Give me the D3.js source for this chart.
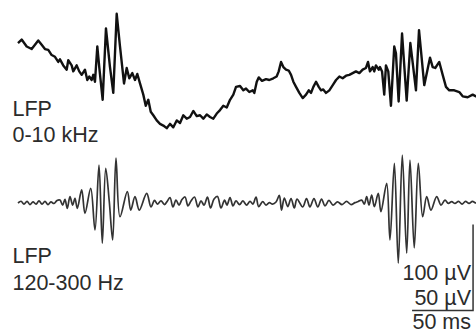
<!DOCTYPE html>
<html>
<head>
<meta charset="utf-8">
<script src="https://cdn.jsdelivr.net/npm/d3@7"></script>
<style>
  html, body { margin: 0; padding: 0; background: #fff; }
  svg { display: block; }
  text { font-family: "Liberation Sans", Arial, Helvetica, sans-serif; fill: #2b2b2b; }
</style>
</head>
<body>
<script>
// Wide-band LFP (0-10 kHz): time in ms, amplitude in µV
const rawTime = [0,3,7.1,11.2,13.9,16.6,19.4,22.1,24.8,27.6,
  30.3,33,34.4,37.1,39.9,41.2,44,45.3,48.1,50.2,
  52.2,54.9,56.8,58.4,60.4,61.7,63.1,65,66.6,69.4,
  72.1,75.4,78.1,80.9,83.6,86.9,89.1,91.2,93.7,95.9,
  97.8,100,102.7,104.7,106.8,108.8,110.9,113.7,116.4,119.1,
  121.9,124.6,127.3,130.1,132.8,135.5,138.3,141,143.7,146.5,
  149.2,151.9,154.7,157.4,160.1,162.9,165.6,168.3,171.1,173.8,
  176.5,178.7,182,184.7,186.9,189.6,192.4,193.7,195.7,197.3,
  200,203.3,206,209.3,212,213.7,215.6,217.5,219.7,221.9,
  223.8,225.7,227.9,230.6,233.4,236.1,238.3,240.2,242.1,244.3,
  246.5,248.4,250.2,252.5,255.2,258,260.7,263.4,266.1,268.9,
  271.6,274.3,277,279.8,282.5,285.2,286.9,288.5,290.7,292,
  293.4,295.7,296.7,298.4,300.2,301.6,303.5,305.7,308.4,309.8,
  312,314.8,318.6,321.6,326.2,328.7,333,337.7,339.9,342,
  345.3,348.1,350.8,353.5,357.6,361.7,364.5,368.6,372.7,375.4,
  378];
const rawValue = [43,47,39,36,41,46,41,36,35,29,
  27,21,24,17,12,23,17,10,17,10,
  6,12,0,4,0,6,-2,39,15,-23,
  60,15,-15,77,39,-4,14,2,8,0,
  7,-4,-17,-30,-23,-37,-41,-47,-51,-53,
  -56,-51,-55,-47,-50,-41,-45,-43,-36,-42,
  -41,-45,-40,-43,-45,-39,-35,-30,-32,-23,
  -17,-8,-7,-12,-10,-14,-12,-15,-2,3,
  -1,1,0,2,4,10,21,15,12,11,
  6,-2,-8,-15,-21,-17,-12,-15,-8,-2,
  -8,-12,-11,-15,-12,-6,0,4,2,5,
  6,8,10,8,12,14,21,10,15,10,
  17,12,15,10,-17,17,10,-30,39,31,
  -25,54,-24,43,-12,58,-6,26,15,14,
  21,6,-8,-12,-12,-14,-19,-20,-17,-19,
  -18];

// Ripple-band LFP (120-300 Hz): time in ms, amplitude in µV
const rippleTime = [0,2.5,4.9,7.4,9.8,12.3,14.8,17.2,19.7,22.1,
  24.6,27,29.5,32,34.4,36.6,38.5,40.4,42.6,44.8,
  46.7,48.6,52.2,54.9,59.6,63.1,66.4,69.1,71.9,74.8,77.6,
  80.3,83.6,89.6,92.4,95.9,99.4,105.5,109,111.9,114.3,
  117.2,120.1,122.5,124.6,127,129.5,132,134.4,136.9,139.3,
  141.8,144.7,147.5,150,152.5,155.3,157.8,160.7,163.5,166.4,
  169.3,171.3,173.8,176.2,178.7,181.6,184.4,187.3,190.2,192.6,
  195.1,197.3,200.6,203.3,206,208.6,211.5,214.2,216,218.3,
  221.1,223.8,226.5,228.7,233.4,236.5,239.3,242.6,245.7,248.8,
  251.6,254.9,258.2,261.9,265.6,269.3,273,276.2,278.9,281.7,
  283.9,285.8,287.7,289.9,292.1,295.3,297.5,302.2,304.9,308.5,
  311.7,315,318.6,321.3,324.8,328.1,331.7,335,338.5,343.2,
  346.7,350,352.7,355.5,358.2,361.1,364,366.8,369.7,372.5,
  375.4,378];
const rippleValue = [0,1,-0.6,1,-0.9,0.6,-0.6,1.2,-0.6,0.9,
  -0.9,0.6,-0.3,1.5,1.7,-1.2,2.1,-3.1,3.7,-1.2,
  2.7,-3.1,7.6,-6,8.5,-15.7,22.1,-23.4,20.2,1,-21.5,
  26.1,-8,6.6,-4.1,3.7,-4.1,5.6,-2.3,1.5,-0.6,
  1.2,-0.9,1.2,3.2,-2.3,1.7,-1.2,2,3.5,-1.7,
  1.2,3.5,-2.3,1.2,-1.2,3.5,-2.9,2.3,3.8,-2.9,
  1.7,-1.2,3.2,-1.7,1.2,-0.9,1.2,-1.2,0.9,-0.6,
  3.5,-2.1,0.8,-1.2,0.2,-0.6,0.6,4.4,-4.1,2.9,
  -2.1,2.6,-2.9,2.3,-2.3,2.6,-2.3,2.6,-2.3,2.3,
  -1.7,1.5,-1.2,0.6,-0.9,0.9,-0.9,0.2,0.9,1.7,
  -0.6,3.7,-1.2,4.6,-2.1,5.6,-5.1,11.4,-21.5,23.1,
  -35,27.9,-29.2,25,-26.1,23.1,-8,3.7,-4.1,3.7,
  -1.2,1.7,-0.2,0.8,-0.3,0.9,-0.6,0.9,-0.3,0.9,
  0,0.6];

// Trace labels and scale bar
const traceLabels = [["LFP", "0-10 kHz"], ["LFP", "120-300 Hz"]];
const scaleRaw = 100;      // µV, wide-band trace
const scaleRipple = 50;    // µV, ripple-band trace
const scaleTime = 50;      // ms
const scaleLabels = [scaleRaw + " µV", scaleRipple + " µV", scaleTime + " ms"];

const W = 476, H = 334;
const svg = d3.select("body").append("svg")
  .attr("width", W).attr("height", H)
  .attr("viewBox", `0 0 ${W} ${H}`);

const x = d3.scaleLinear().domain([0, 375]).range([18, 475.5]);
const yRaw = d3.scaleLinear().domain([-100, 100]).range([166, -6]);
const yRip = d3.scaleLinear().domain([-50, 50]).range([289, 117]);

const rawLine = d3.line()
  .x(d => x(d[0])).y(d => yRaw(d[1]))
  .curve(d3.curveLinear);
const ripLine = d3.line()
  .x(d => x(d[0])).y(d => yRip(d[1]))
  .curve(d3.curveCatmullRom.alpha(0.5));

svg.append("path")
  .datum(d3.zip(rawTime, rawValue))
  .attr("d", rawLine)
  .attr("fill", "none")
  .attr("stroke", "#111")
  .attr("stroke-width", 2.4)
  .attr("stroke-linejoin", "round");

svg.append("path")
  .datum(d3.zip(rippleTime, rippleValue))
  .attr("d", ripLine)
  .attr("fill", "none")
  .attr("stroke", "#333")
  .attr("stroke-width", 1.7)
  .attr("stroke-linejoin", "round");

// Trace labels
const labelPos = [[116, 142], [263, 289.5]];
traceLabels.forEach((lines, k) => {
  lines.forEach((s, j) => {
    svg.append("text")
      .attr("x", 12.5)
      .attr("y", labelPos[k][j])
      .attr("font-size", 21.5)
      .text(s);
  });
});

// Scale bar: vertical = 100 µV (wide-band) / 50 µV (ripple), horizontal = 50 ms
const barEnd = 373;
const barBase = -62.5; // ripple-band µV at the bar's corner
const bx1 = x(barEnd - scaleTime), bx2 = x(barEnd);
const by0 = yRip(barBase), by1 = yRip(barBase + scaleRipple);

svg.append("path")
  .attr("d", `M${bx1},${by0}H${bx2}V${by1}`)
  .attr("fill", "none")
  .attr("stroke", "#333")
  .attr("stroke-width", 1.5);

const scaleY = [280, 305, 329];
scaleLabels.forEach((s, i) => {
  svg.append("text")
    .attr("x", 471)
    .attr("y", scaleY[i])
    .attr("text-anchor", "end")
    .attr("font-size", 21.5)
    .text(s);
});
</script>
</body>
</html>
